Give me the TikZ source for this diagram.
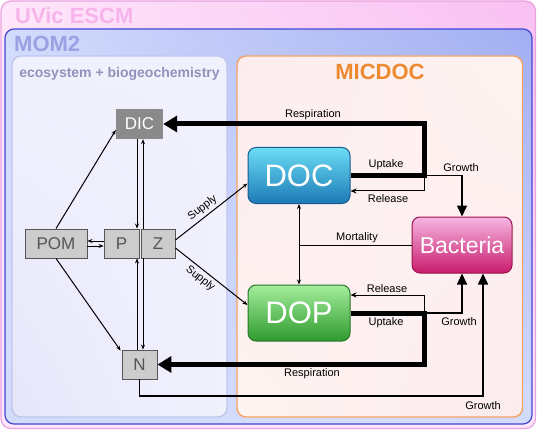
\documentclass[tikz,border=0pt]{standalone}
\usepackage{fontspec}
\setmainfont{Liberation Sans}
\usetikzlibrary{arrows.meta,calc,shadings}
\definecolor{escmA}{HTML}{FFE6FA}
\definecolor{escmB}{HTML}{F8C0F2}
\definecolor{escmLine}{HTML}{E8A2DE}
\definecolor{escmText}{HTML}{F6B4EA}
\definecolor{momA}{HTML}{D4DCFC}
\definecolor{momB}{HTML}{A2AEF2}
\definecolor{momLine}{HTML}{4646D6}
\definecolor{momText}{HTML}{9AA2E4}
\definecolor{ecoA}{HTML}{F1F1FD}
\definecolor{ecoB}{HTML}{E6E6FA}
\definecolor{ecoLine}{HTML}{BEC6EE}
\definecolor{ecoText}{HTML}{9292BC}
\definecolor{micA}{HTML}{FFF4F2}
\definecolor{micB}{HTML}{FCECEE}
\definecolor{micLine}{HTML}{F2A466}
\definecolor{micText}{HTML}{EC8A30}
\definecolor{boxGray}{HTML}{CCCCCC}
\definecolor{boxLine}{HTML}{555555}
\definecolor{dicGray}{HTML}{8A8A8A}
\definecolor{docTop}{HTML}{6CDDF5}
\definecolor{docBot}{HTML}{1C7AB6}
\definecolor{docLine}{HTML}{1A5A8E}
\definecolor{dopTop}{HTML}{A4EE9C}
\definecolor{dopBot}{HTML}{2E9A2E}
\definecolor{dopLine}{HTML}{2A742A}
\definecolor{bacTop}{HTML}{F6B6E2}
\definecolor{bacBot}{HTML}{C81C6C}
\definecolor{bacLine}{HTML}{9C1050}
\begin{document}
\begin{tikzpicture}[x=1pt,y=-1pt,
  graybox/.style={draw=boxLine, fill=boxGray, text=boxLine, line width=0.9pt, inner sep=0pt,
    font=\fontsize{17}{20}\selectfont},
  poolbox/.style={rounded corners=8pt, inner sep=0pt, minimum width=102pt, minimum height=56pt,
    text=white, line width=1pt},
  lbl/.style={font=\fontsize{11}{13}\selectfont, inner sep=0pt},
  thin/.style={line width=1pt},
  thickline/.style={line width=5pt, line join=miter, -{Triangle[length=14pt,width=16pt]}},
  small/.style={thin, -{Stealth[length=5pt,width=4pt]}},
  growarrow/.style={line width=1.6pt, -{Triangle[length=11pt,width=10pt]}}
]
\useasboundingbox (0,0) rectangle (537,430);
% UVic ESCM
\shade[rounded corners=10pt, upper left=escmA, upper right=escmB, lower left=escmA, lower right=escmA]
  (1,1) rectangle (535.5,428.5);
\draw[escmLine, line width=1.2pt, rounded corners=10pt] (1,1) rectangle (535.5,428.5);
\node[anchor=base west, text=escmText, font=\bfseries\fontsize{22}{26}\selectfont, inner sep=0pt] (tescm) at (15,24) {UVic ESCM};
% MOM2
\shade[rounded corners=9pt, upper left=momA, upper right=momB, lower left=momA, lower right=momA]
  (5,29) rectangle (532,424);
\draw[momLine, line width=1.2pt, rounded corners=9pt] (5,29) rectangle (532,424);
\node[anchor=base west, text=momText, font=\bfseries\fontsize{22}{26}\selectfont, inner sep=0pt] (tmom) at (14,51.5) {MOM2};
% ecosystem
\shade[rounded corners=9pt, upper left=ecoA, upper right=ecoA, lower left=ecoB, lower right=ecoA]
  (12,56) rectangle (227,417);
\draw[ecoLine, line width=1.4pt, rounded corners=9pt] (12,56) rectangle (227,417);
\node[anchor=base, text=ecoText, font=\bfseries\fontsize{14}{16}\selectfont, inner sep=0pt] (teco) at (119.5,78) {ecosystem + biogeochemistry};
% MICDOC
\shade[rounded corners=9pt, upper left=micB, upper right=micA, lower left=micA, lower right=micB]
  (237,56) rectangle (522.5,417);
\draw[micLine, line width=1.4pt, rounded corners=9pt] (237,56) rectangle (522.5,417);
\node[anchor=base, text=micText, font=\bfseries\fontsize{22}{26}\selectfont, inner sep=0pt] (tmic) at (380,80) {MICDOC};

% ecosystem nodes
\node[fill=dicGray, text=white, inner sep=0pt, minimum width=47pt, minimum height=30pt,
  font=\fontsize{17}{20}\selectfont] (DIC) at (139.5,124) {DIC};
\node[graybox, minimum width=62pt, minimum height=29pt] (POM) at (56,243.5) {POM};
\node[graybox, minimum width=35pt, minimum height=29pt] (P) at (121.5,243.5) {P};
\node[graybox, minimum width=34pt, minimum height=29pt] (Z) at (158,243.5) {Z};
\node[graybox, minimum width=35pt, minimum height=29pt] (N) at (139.5,364.5) {N};

% MICDOC nodes
\node[poolbox, draw=docLine, top color=docTop, bottom color=docBot,
  font=\fontsize{31}{34}\selectfont] (DOC) at (299,175.5) {DOC};
\node[poolbox, draw=dopLine, top color=dopTop, bottom color=dopBot,
  font=\fontsize{31}{34}\selectfont] (DOP) at (299,313) {DOP};
\node[poolbox, minimum width=100pt, draw=bacLine, top color=bacTop, bottom color=bacBot,
  font=\fontsize{23}{26}\selectfont] (Bac) at (462,245) {Bacteria};

% helper coordinates
\coordinate (cx) at (424,0);
\coordinate (jt) at (424,175.5);
\coordinate (rt) at (424,191);
\coordinate (jb) at (424,313);
\coordinate (rb) at (424,295);
\coordinate (gb) at (483,396);
\coordinate (mx) at (299,245);

% top MICDOC fluxes
\draw[thin, -{Stealth[length=6pt,width=5pt]}] (jt) -- (rt) -- (rt -| DOC.east);
\draw[growarrow] (jt) -| (Bac.north);
\draw[thickline] (DOC.east) -| (cx |- DIC.east) -- (DIC.east);
% bottom MICDOC fluxes
\draw[thin, -{Stealth[length=6pt,width=5pt]}] (jb) -- (rb) -- (rb -| DOP.east);
\draw[growarrow] (jb) -| (Bac.south);
\draw[thickline] (DOP.east) -| (cx |- N.east) -- (N.east);
\draw[growarrow] (N.south) |- (gb) -- (gb |- Bac.south);
% mortality
\draw[thin] (Bac.west) -- (mx);
\draw[thin, {Stealth[length=5pt,width=4pt]}-{Stealth[length=5pt,width=4pt]}] (DOC.south) -- (DOP.north);

% supply
\draw[small] ($(Z.east)+(0,-3.5)$) -- node[lbl, sloped, above=3pt, pos=0.45] (ls1) {Supply} ($(DOC.west)+(0,8)$);
\draw[small] ($(Z.east)+(0,4.5)$) -- node[lbl, sloped, below=3pt, pos=0.42] (ls2) {Supply} ($(DOP.west)+(0,-8)$);

% ecosystem links
\draw[small] (POM.north) -- ($(DIC.west)+(0,6)$);
\draw[small] (POM.south) -- ($(N.north west)+(-1,1)$);
\draw[small] ($(P.west)+(0,-2.5)$) -- ($(POM.east)+(0,-2.5)$);
\draw[small] ($(POM.east)+(0,2.5)$) -- ($(P.west)+(0,2.5)$);
\draw[small] ($(DIC.south)+(-2.5,0)$) -- ($(P.north)+(15.5,0)$);
\draw[small] ($(N.north)+(-2.5,0)$) -- ($(P.south)+(15.5,0)$);
\draw[small] ($(Z.north)+(-15,0)$) -- ($(DIC.south)+(3.5,0)$);
\draw[small] ($(Z.south)+(-15,0)$) -- ($(N.north)+(3.5,0)$);

% labels
\node[lbl] (l1) at (313,115) {Respiration};
\node[lbl] (l2) at (386,165) {Uptake};
\node[lbl] (l3) at (461,168) {Growth};
\node[lbl] (l4) at (388,199) {Release};
\node[lbl] (l5) at (357,238) {Mortality};
\node[lbl] (l6) at (387,289) {Release};
\node[lbl] (l7) at (386,323) {Uptake};
\node[lbl] (l8) at (459,322) {Growth};
\node[lbl] (l9) at (312,374) {Respiration};
\node[lbl] (l10) at (483,406) {Growth};
\end{tikzpicture}
\end{document}
